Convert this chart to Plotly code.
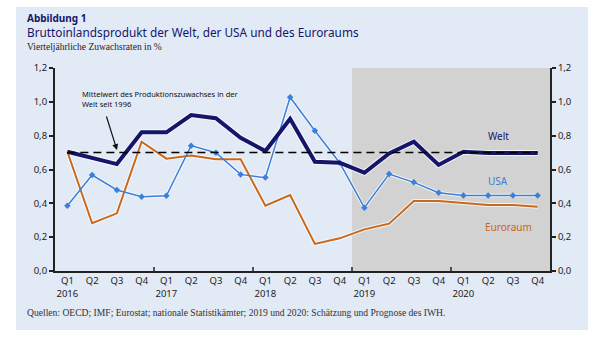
import plotly.graph_objects as go

# Quarterly growth rates in percent, Q1 2016 .. Q4 2020
quarters = ["Q1", "Q2", "Q3", "Q4"] * 5
years = ["2016", "2017", "2018", "2019", "2020"]
welt = [0.705, 0.67, 0.632, 0.82, 0.82, 0.922, 0.903, 0.788, 0.709, 0.90,
        0.646, 0.64, 0.581, 0.695, 0.764, 0.627, 0.705, 0.697, 0.697, 0.697]
usa = [0.386, 0.567, 0.479, 0.439, 0.445, 0.741, 0.699, 0.571, 0.552, 1.027,
       0.829, 0.64, 0.374, 0.573, 0.524, 0.463, 0.447, 0.447, 0.447, 0.447]
euroraum = [0.705, 0.282, 0.341, 0.764, 0.664, 0.682, 0.66, 0.66, 0.386, 0.449,
            0.16, 0.193, 0.246, 0.28, 0.414, 0.414, 0.402, 0.39, 0.39, 0.38]
mittelwert = 0.70
yticks = [0.0, 0.2, 0.4, 0.6, 0.8, 1.0, 1.2]

x = list(range(len(quarters)))
ticktext = [q + ("<br>" + years[i // 4] if q == "Q1" else "<br> ") for i, q in enumerate(quarters)]

NAVY = "#15166b"
BLUE = "#3b7fd9"
ORANGE = "#c8681c"
PANEL = "#e2eaf6"
SANS = "Noto Sans"
SERIF = "Liberation Serif"

fig = go.Figure()

# white halo beneath each series
for ys, w in [(euroraum, 4), (usa, 3.5), (welt, 6)]:
    fig.add_trace(go.Scatter(x=x, y=ys, mode="lines", line=dict(color="rgba(255,255,255,0.7)", width=w),
                             hoverinfo="skip", showlegend=False))

fig.add_trace(go.Scatter(x=x, y=euroraum, mode="lines", name="Euroraum",
                         line=dict(color=ORANGE, width=2)))
fig.add_trace(go.Scatter(x=x, y=usa, mode="lines+markers", name="USA",
                         line=dict(color=BLUE, width=1.5),
                         marker=dict(symbol="diamond", size=5, color=BLUE)))
fig.add_trace(go.Scatter(x=x, y=welt, mode="lines", name="Welt",
                         line=dict(color=NAVY, width=4)))
# long-run world average
fig.add_trace(go.Scatter(x=[x[0], x[-1]], y=[mittelwert, mittelwert], mode="lines",
                         line=dict(color="black", width=1.5, dash="8px,5px"), showlegend=False))
# mirrored right axis
fig.add_trace(go.Scatter(x=[x[0]], y=[0], yaxis="y2", mode="markers",
                         marker=dict(opacity=0), showlegend=False, hoverinfo="skip"))

shapes = [
    # light blue panel
    dict(type="rect", xref="paper", yref="paper", x0=-0.079, x1=1.077, y0=-0.291, y1=1.30,
         fillcolor=PANEL, line=dict(width=0), layer="below"),
    # forecast period
    dict(type="rect", xref="x", yref="y", x0=11.5, x1=19.5, y0=0, y1=1.2,
         fillcolor="#d2d2d2", line=dict(width=0), layer="below"),
]
# year separators on the x axis
for xv in [3.5, 7.5, 11.5, 15.5]:
    shapes.append(dict(type="line", xref="x", yref="y", ysizemode="pixel", yanchor=0,
                       x0=xv, x1=xv, y0=-4, y1=4, line=dict(color="#222", width=1.5)))

annotations = [
    dict(text="<b>Abbildung 1</b>", x=-0.0606, y=1.246, xref="paper", yref="paper",
         xanchor="left", yanchor="middle", showarrow=False, font=dict(family=SANS, size=10, color=NAVY)),
    dict(text="Bruttoinlandsprodukt der Welt, der USA und des Euroraums", x=-0.0606, y=1.175,
         xref="paper", yref="paper", xanchor="left", yanchor="middle", showarrow=False,
         font=dict(family=SANS, size=11.8, color=NAVY)),
    dict(text="Vierteljährliche Zuwachsraten in %", x=-0.0606, y=1.105, xref="paper", yref="paper",
         xanchor="left", yanchor="middle", showarrow=False, font=dict(family=SERIF, size=9.5, color="#222")),
    dict(text="Quellen: OECD; IMF; Eurostat; nationale Statistikämter; 2019 und 2020: Schätzung und Prognose des IWH.",
         x=-0.0606, y=-0.202, xref="paper", yref="paper", xanchor="left", yanchor="middle", showarrow=False,
         font=dict(family=SERIF, size=9.6, color="#333")),
    dict(text="Mittelwert des Produktionszuwachses in der<br>Welt seit 1996", x=0.51, y=1.017,
         xref="x", yref="y", xanchor="left", yanchor="middle", align="left", showarrow=False,
         font=dict(family=SANS, size=7.5, color="#111")),
    dict(text="", x=2.005, y=0.715, ax=1.56, ay=0.922, xref="x", yref="y", axref="x", ayref="y",
         showarrow=True, arrowhead=2, arrowsize=1, arrowwidth=1.2, arrowcolor="#111"),
    dict(text="Welt", x=17.4, y=0.80, xref="x", yref="y", showarrow=False,
         font=dict(family=SANS, size=10, color=NAVY)),
    dict(text="USA", x=17.4, y=0.532, xref="x", yref="y", showarrow=False,
         font=dict(family=SANS, size=10, color=BLUE)),
    dict(text="Euroraum", x=17.84, y=0.26, xref="x", yref="y", showarrow=False,
         font=dict(family=SANS, size=10, color=ORANGE)),
]

axis_font = dict(family=SANS, size=9.5, color="#222")
fig.update_layout(
    width=600, height=343,
    margin=dict(l=55, r=50, t=68, b=72),
    paper_bgcolor="white", plot_bgcolor="rgba(0,0,0,0)",
    separators=", ",
    showlegend=False,
    shapes=shapes, annotations=annotations,
    xaxis=dict(range=[-0.5, 19.5], tickvals=x, ticktext=ticktext, showgrid=False, zeroline=False,
               showline=True, linecolor="#222", linewidth=2, ticks="", tickfont=axis_font, fixedrange=True),
    yaxis=dict(range=[0, 1.2], tickvals=yticks, tickformat=".1f", showgrid=False, zeroline=False,
               showline=True, linecolor="#222", linewidth=2, ticks="outside", ticklen=4, tickwidth=1.5,
               tickcolor="#222", tickfont=axis_font),
    yaxis2=dict(range=[0, 1.2], tickvals=yticks, tickformat=".1f", overlaying="y", side="right",
                showgrid=False, zeroline=False, showline=True, linecolor="#222", linewidth=2,
                ticks="outside", ticklen=4, tickwidth=1.5, tickcolor="#222", tickfont=axis_font),
)

fig.write_html("out.html")
